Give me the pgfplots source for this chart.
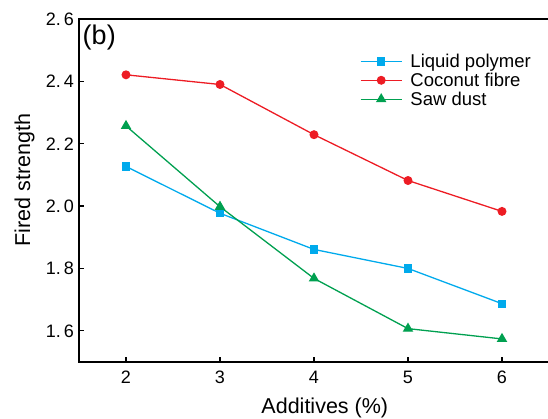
\documentclass[border=0pt]{standalone}
\usepackage{fontspec}
\setmainfont{Liberation Sans}
\usepackage{pgfplots}
\pgfplotsset{compat=1.18}
\usetikzlibrary{calc}
\definecolor{cred}{RGB}{237,28,36}
\definecolor{cblue}{RGB}{0,170,236}
\definecolor{cgreen}{RGB}{0,160,80}
\begin{document}
\begin{tikzpicture}
\begin{axis}[
  scale only axis,
  width=470pt, height=343pt,
  xmin=1.5, xmax=6.5, ymin=1.5, ymax=2.6,
  xtick={2,3,4,5,6},
  ytick={1.6,1.8,2.0,2.2,2.4,2.6},
  yticklabels={1.\hspace{3pt}6,1.\hspace{3pt}8,2.\hspace{3pt}0,2.\hspace{3pt}2,2.\hspace{3pt}4,2.\hspace{3pt}6},
  xtick pos=left, ytick pos=left,
  tick align=inside,
  major tick length=5pt,
  tick style={line width=1.2pt, black},
  axis line style={line width=1.5pt},
  every axis/.append style={line width=1.5pt},
  /pgf/number format/assume math mode=true,
  ticklabel style={font=\fontsize{18}{21}\selectfont},
  xticklabel style={yshift=-5pt},
  yticklabel style={xshift=-1pt},
  xlabel={Additives (\%)},
  ylabel={Fired strength},
  label style={font=\fontsize{21.5}{24}\selectfont},
  xlabel style={at={(ticklabel cs:0.523)}, yshift=-7pt},
  ylabel style={at={(ticklabel cs:0.53)}, yshift=4pt},
  legend style={draw=none, fill=none, at={(axis cs:4.47,2.50)}, anchor=north west,
    font=\fontsize{18.5}{20}\selectfont, row sep=0pt, inner sep=1pt,
    /tikz/every odd column/.style={column sep=6pt}},
  legend cell align=left,
  legend image code/.code={\draw[#1] (0cm,0cm) -- (1.45cm,0cm); \draw[#1, mark repeat=1] plot coordinates {(0.725cm,0cm)};},
  clip=false,
]
\addplot[cblue, line width=1.3pt, mark=square*, mark size=3.5pt, mark options={solid}] coordinates {
(2,2.127) (3,1.977) (4,1.861) (5,1.800) (6,1.687)};
\addlegendentry{Liquid polymer}
\addplot[cred, line width=1.3pt, mark=*, mark size=3.8pt] coordinates {
(2,2.421) (3,2.390) (4,2.229) (5,2.082) (6,1.983)};
\addlegendentry{Coconut fibre}
\addplot[cgreen, line width=1.3pt, mark=triangle*, mark size=4.8pt] coordinates {
(2,2.257) (3,1.998) (4,1.768) (5,1.607) (6,1.574)};
\addlegendentry{Saw dust}
\node[anchor=north west, font=\fontsize{27}{29}\selectfont, inner sep=1pt] at ($(rel axis cs:0,1)+(2pt,-4pt)$) {(b)};
\end{axis}
\pgfresetboundingbox
\path ($(current axis.south west)+(-79pt,-57pt)$) rectangle ($(current axis.north east)+(-1pt,19pt)$);
\end{tikzpicture}
\end{document}
